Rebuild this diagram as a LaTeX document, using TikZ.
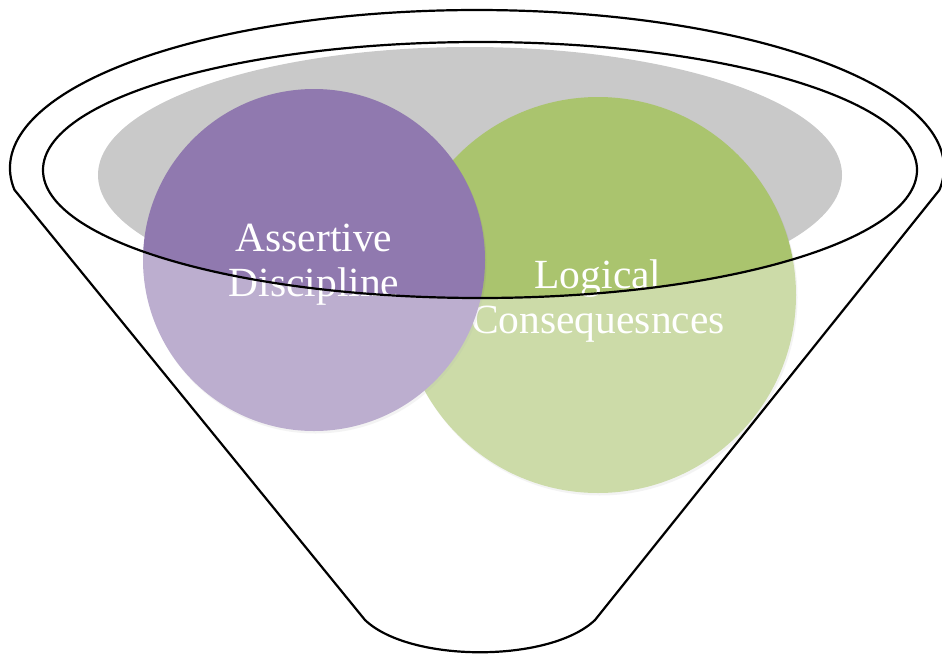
\documentclass[tikz,border=0pt]{standalone}
\usepackage{fontspec}
\setmainfont{Liberation Serif}
\usepackage{tikz}
\usetikzlibrary{
  positioning,
  shadows
}
\definecolor{fnPurple}{HTML}{9079AF}
\definecolor{fnGreen}{HTML}{AAC46E}
\definecolor{fnGrey}{HTML}{C9C9C9}
\tikzset{
  fnrim/.style={draw=black, line width=2.2pt, line join=round},
  fnbowl/.style={fill=fnGrey, draw=none},
  fnball/.style={
    circle, draw=none, inner sep=0pt,
    drop shadow={opacity=0.15, shadow xshift=1.5pt, shadow yshift=-2.5pt}
  },
  fntext/.style={
    text=white, align=center, inner sep=0pt,
    font=\fontsize{41.5}{45}\selectfont
  },
  fnveil/.style={fill=white, fill opacity=0.4, even odd rule}
}
\begin{document}
\begin{tikzpicture}[x=1pt, y=-1pt]
  \useasboundingbox (0,0) rectangle (942,656);
  % grey bowl inside the funnel mouth
  \fill[fnbowl] (470,175) ellipse [x radius=372, y radius=128];
  % the two balls and their captions
  \node[fnball, fill=fnGreen, minimum size=396] (logic) at (598,295) {};
  \node[fntext] (logicTxt) at ([yshift=-6.5pt]logic.center) {Logical\\Consequesnces};
  \node[fnball, fill=fnPurple, minimum size=342] (assert) at (314,260) {};
  \node[fntext] (assertTxt) at ([yshift=-5pt]assert.center) {Assertive\\Discipline};
  % funnel body, lightens all below the mouth
  \path[fnveil]
    (14.6,190) -- (365,620) .. controls (410,663) and (550,663) .. (595,620)
    -- (939.4,190) arc [start angle=8, end angle=-188, x radius=467, y radius=158] -- cycle
    (480,170) ellipse [x radius=437, y radius=128];
  % outlines
  \draw[fnrim]
    (14.6,190) -- (365,620) .. controls (410,663) and (550,663) .. (595,620)
    -- (939.4,190) arc [start angle=8, end angle=-188, x radius=467, y radius=158] -- cycle;
  \draw[fnrim] (480,170) ellipse [x radius=437, y radius=128];
\end{tikzpicture}
\end{document}
